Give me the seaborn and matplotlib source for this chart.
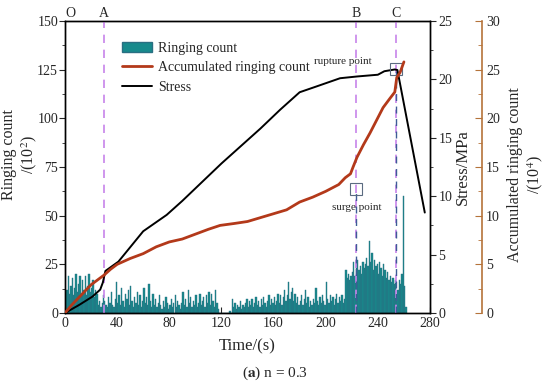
import numpy as np
import pandas as pd
import matplotlib
matplotlib.use("Agg")
import matplotlib.pyplot as plt
from matplotlib.patches import Patch
from matplotlib.lines import Line2D
from matplotlib.ticker import MultipleLocator
import seaborn as sns

# ringing count per second (x10^2), t = 0..261 s
ring_counts = [
    8, 12, 19, 10, 14, 18, 9, 13, 20, 11,
    15, 19, 10, 17, 12, 19, 9, 14, 20, 11,
    13, 17, 8, 12, 10, 4, 6, 3, 5, 9,
    6, 4, 3, 8, 5, 11, 4, 3, 7, 16,
    5, 9, 4, 13, 6, 3, 10, 7, 12, 4,
    14, 6, 3, 8, 5, 11, 4, 9, 3, 6,
    13, 5, 8, 4, 15, 6, 3, 10, 4, 7,
    3, 5, 9, 4, 2, 6, 3, 8, 5, 2,
    4, 7, 3, 5, 9, 3, 6, 4, 2, 5,
    11, 4, 7, 3, 12, 5, 8, 3, 6, 4,
    9, 3, 5, 10, 4, 6, 8, 3, 9, 5,
    11, 4, 10, 6, 3, 12, 5, 2, 0, 0,
    0, 0, 0, 0, 0, 0, 1, 0, 7, 3,
    5, 2, 4, 3, 6, 2, 4, 3, 5, 7,
    3, 6, 4, 7, 3, 5, 8, 4, 6, 3,
    7, 4, 8, 5, 3, 6, 9, 4, 7, 5,
    8, 4, 6, 10, 5, 9, 4, 8, 12, 6,
    9, 16, 7, 11, 13, 6, 10, 5, 8, 4,
    6, 9, 4, 7, 12, 5, 8, 3, 6, 4,
    7, 5, 13, 6, 4, 8, 5, 9, 6, 4,
    16, 7, 5, 9, 6, 8, 4, 7, 10, 5,
    8, 6, 9, 5, 7, 22, 18, 20, 17, 19,
    21, 26, 19, 25, 27, 22, 24, 20, 26, 23,
    25, 28, 24, 37, 26, 31, 22, 27, 24, 25,
    20, 26, 23, 19, 25, 22, 18, 21, 17, 19,
    16, 18, 15, 17, 8, 12, 17, 15, 20, 60,
    14, 3,
]
ring_time = list(range(len(ring_counts)))

# accumulated ringing count (x10^4)
acc_time = [0, 5, 10, 15, 20, 25, 30, 35, 40, 50, 60, 70, 80, 90, 100, 110, 119,
            130, 140, 150, 160, 170, 180, 190, 200, 210, 215, 219, 221, 224, 229,
            234, 239, 244, 249, 253, 254.5, 257, 260]
acc_vals = [0, 0.8, 1.5, 2.2, 2.9, 3.4, 3.9, 4.5, 5.0, 5.6, 6.1, 6.8, 7.3, 7.6, 8.1,
            8.6, 9.0, 9.2, 9.4, 9.8, 10.2, 10.6, 11.4, 11.9, 12.5, 13.2, 13.9, 14.3,
            15.0, 16.0, 17.3, 18.5, 19.8, 21.1, 22.0, 22.7, 24.2, 24.7, 25.8]

# stress (MPa)
stress_time = [0, 11, 21, 27, 29, 31, 41, 60, 78, 90, 120, 150, 165, 180, 193,
               211, 224, 240, 245, 253, 255, 276]
stress_vals = [0, 0.7, 1.4, 2.0, 2.6, 3.6, 4.4, 7.0, 8.4, 9.6, 12.8, 15.8, 17.4,
               18.9, 19.4, 20.1, 20.25, 20.4, 20.7, 20.85, 20.8, 8.6]

markers = {"A": 30, "B": 223, "C": 254}
surge_t, surge_y = 223, 63.7
rupture_t, rupture_s = 254, 20.85

sns.set_style("ticks")
plt.rcParams["font.family"] = ["Liberation Serif", "DejaVu Serif"]
plt.rcParams["mathtext.fontset"] = "stix"

teal = "#178a8c"
orange = "#b3391a"
brown = "#b5733a"
purple = "#c784ea"
dblue = "#3e5c96"

fig = plt.figure(figsize=(5.5, 3.86), dpi=100)
ax = fig.add_axes([65 / 550, 1 - 313 / 386, 365 / 550, 292 / 386])
ax2 = ax.twinx()
ax3 = ax.twinx()

ring_df = pd.DataFrame({"t": ring_time, "count": ring_counts})
sns.histplot(data=ring_df, x="t", weights="count", binwidth=1, binrange=(0, len(ring_counts)),
             color=teal, edgecolor="#2a6f82", linewidth=0.3, alpha=1, ax=ax)

for name, t in markers.items():
    ax.axvline(t, color=purple, lw=1.2, ls=(0, (5, 4)), zorder=3)
    ax.text(t, 1.005, name, transform=ax.get_xaxis_transform(), ha="center",
            va="bottom", fontsize=10)
ax.text(4, 1.005, "O", transform=ax.get_xaxis_transform(), ha="center",
        va="bottom", fontsize=10)

# blue dashes below the two points
ax.plot([surge_t, surge_t], [0, surge_y], color=dblue, lw=1.0, ls=(0, (5, 4)), zorder=4)
ax.plot([rupture_t, rupture_t], [0, 124.5], color=dblue, lw=1.0, ls=(0, (5, 4)), zorder=4)

ax.plot(surge_t, surge_y, marker="s", ms=8, mfc="none", mec="#5b6b80", mew=0.8, zorder=5)
ax.text(surge_t + 1, 54.4, "surge point", ha="center", va="center", fontsize=8)

sns.lineplot(x=stress_time, y=stress_vals, color="black", lw=1.4, ax=ax2, zorder=3)
ax2.plot(rupture_t, rupture_s, marker="s", ms=8, mfc="none", mec="#5b6b80", mew=0.8, zorder=5)
ax2.text(213, 21.55, "rupture point", ha="center", va="center", fontsize=8)

sns.lineplot(x=acc_time, y=acc_vals, color=orange, lw=2.0, ax=ax3, zorder=3)

ax.set_xlim(0, 280)
ax.set_ylim(0, 150)
ax2.set_ylim(0, 25)
ax3.set_ylim(0, 30)

ax.xaxis.set_major_locator(MultipleLocator(40))
ax.xaxis.set_minor_locator(MultipleLocator(20))
ax.yaxis.set_major_locator(MultipleLocator(25))
ax.yaxis.set_minor_locator(MultipleLocator(12.5))
ax2.yaxis.set_major_locator(MultipleLocator(5))
ax2.yaxis.set_minor_locator(MultipleLocator(2.5))
ax3.yaxis.set_major_locator(MultipleLocator(5))
ax3.yaxis.set_minor_locator(MultipleLocator(2.5))

ax.tick_params(axis="x", which="both", direction="in", labelsize=10, pad=3)
ax.tick_params(axis="x", which="major", length=4)
ax.tick_params(axis="x", which="minor", length=2)
ax.tick_params(axis="y", which="major", direction="out", length=4, labelsize=10, pad=1)
ax.tick_params(axis="y", which="minor", direction="out", length=2)
ax2.tick_params(axis="y", which="major", direction="out", length=4, labelsize=10, pad=2)
ax2.tick_params(axis="y", which="minor", direction="out", length=2)

ax3.spines["right"].set_position(("axes", 1 + 52 / 365))
ax3.spines["right"].set_color(brown)
ax3.spines["right"].set_linewidth(1.2)
ax3.spines["top"].set_visible(False)
ax3.spines["left"].set_visible(False)
ax3.spines["bottom"].set_visible(False)
ax3.tick_params(axis="y", which="major", direction="in", length=5, color=brown,
                labelsize=10, pad=3)
ax3.tick_params(axis="y", which="minor", direction="in", length=3, color=brown)

for a in (ax, ax2):
    for s in a.spines.values():
        s.set_visible(True)
        s.set_color("black")
        s.set_linewidth(1.0)

ax.set_xlabel("Time/(s)", fontsize=12, labelpad=6)
ax.set_ylabel("")
ax2.set_ylabel("Stress/MPa", fontsize=12, labelpad=2)
ax3.set_ylabel("")

# two-line y labels placed as in the reference
fig.text(20 / 550, 1 - 155 / 386, "Ringing count\n/(10$^2$)", rotation=90, ha="center",
         va="center", fontsize=11.5, linespacing=1.15, multialignment="center")
fig.text(526 / 550, 1 - 175 / 386, "Accumulated ringing count\n/(10$^4$)", rotation=90,
         ha="center", va="center", fontsize=11.5, linespacing=1.2, multialignment="center")

handles = [Patch(facecolor=teal, edgecolor="#2a6f82", label="Ringing count"),
           Line2D([], [], color=orange, lw=2.0, label="Accumulated ringing count"),
           Line2D([], [], color="black", lw=1.4, label="Stress")]
ax3.legend(handles=handles, loc="upper left", bbox_to_anchor=(0.14, 0.947), frameon=False,
           fontsize=10, handlelength=2.2, handletextpad=0.4, labelspacing=0.45,
           borderaxespad=0)

fig.text(275 / 550, 1 - 373 / 386, "($\\bf{a}$) n = 0.3", ha="center", va="center",
         fontsize=11)

fig.savefig("out.png", dpi=100)
